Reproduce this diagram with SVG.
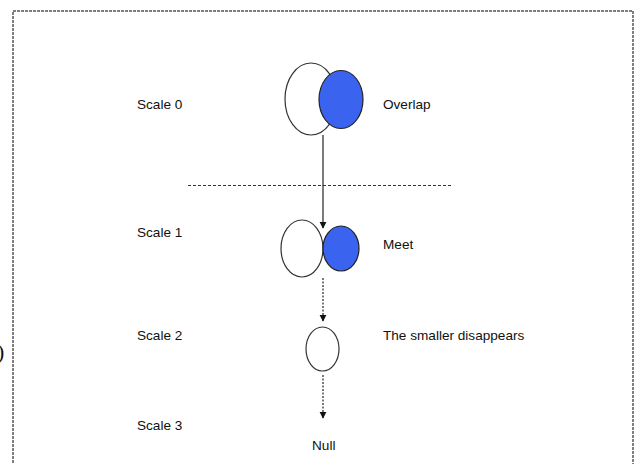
<svg xmlns="http://www.w3.org/2000/svg" width="637" height="464" viewBox="0 0 637 464">
  <style>
    .lbl { font-family: "Liberation Sans", Arial, sans-serif; font-size: 13.6px; fill: #111; }
    .ring { fill: #fff; stroke: #333; stroke-width: 1.2; }
    .blue { fill: #3a64f0; stroke: #222; stroke-width: 1.2; }
    .flow { stroke: #222; stroke-width: 1.2; fill: none; }
    .dot { stroke-dasharray: 2 1.5; }
  </style>
  <defs>
    <marker id="tip" viewBox="0 0 10 10" refX="9" refY="5" markerWidth="7" markerHeight="9" orient="auto" markerUnits="userSpaceOnUse">
      <path d="M0,0 L10,5 L0,10 z" fill="#111"/>
    </marker>
  </defs>

  <rect width="637" height="464" fill="#fff"/>
  <!-- frame -->
  <rect x="13" y="11" width="620" height="470" fill="none" stroke="#555" stroke-width="1.5" stroke-dasharray="3 1"/>
  <text x="-3" y="359" font-family="'Liberation Serif', 'Times New Roman', serif" font-size="22" fill="#111">)</text>

  <!-- scale separator -->
  <line x1="188" y1="185.5" x2="453" y2="185.5" stroke="#333" stroke-width="1.2" stroke-dasharray="3 2"/>

  <g id="connectors">
    <line class="flow" x1="323" y1="135" x2="323" y2="228" marker-end="url(#tip)"/>
    <line class="flow dot" x1="323" y1="278" x2="323" y2="321" marker-end="url(#tip)"/>
    <line class="flow dot" x1="323" y1="375" x2="323" y2="418" marker-end="url(#tip)"/>
  </g>

  <g id="scale0">
    <text class="lbl" x="137" y="109">Scale 0</text>
    <ellipse class="ring" cx="311" cy="99" rx="26" ry="36"/>
    <ellipse class="blue" cx="341" cy="99.5" rx="22" ry="29"/>
    <text class="lbl" x="383" y="109">Overlap</text>
  </g>

  <g id="scale1">
    <text class="lbl" x="137" y="237">Scale 1</text>
    <ellipse class="ring" cx="302" cy="248.5" rx="21" ry="28.5"/>
    <ellipse class="blue" cx="341" cy="248.5" rx="18" ry="22.5"/>
    <text class="lbl" x="383" y="249">Meet</text>
  </g>

  <g id="scale2">
    <text class="lbl" x="137" y="340">Scale 2</text>
    <ellipse class="ring" cx="322.5" cy="349" rx="16.5" ry="22"/>
    <text class="lbl" x="383" y="340">The smaller disappears</text>
  </g>

  <g id="scale3">
    <text class="lbl" x="137" y="430">Scale 3</text>
    <text class="lbl" x="312" y="450">Null</text>
  </g>
</svg>
